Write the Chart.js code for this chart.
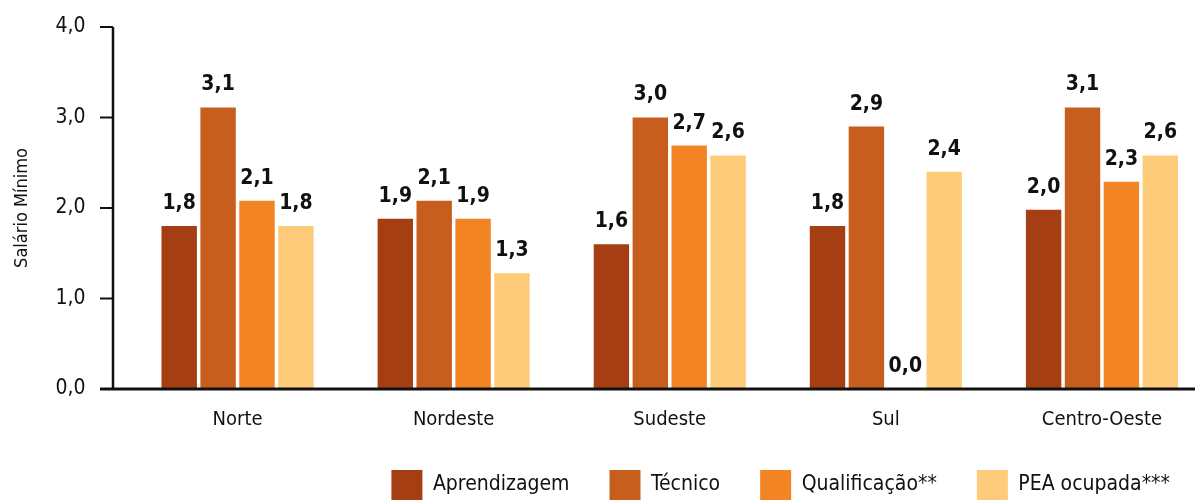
<!DOCTYPE html>
<html>
<head>
<meta charset="utf-8">
<script src="https://cdn.jsdelivr.net/npm/chart.js@4.4.1/dist/chart.umd.min.js"></script>
<style>
  html, body { margin: 0; padding: 0; background: #fff; overflow: hidden; }
  #wrap { width: 1212px; height: 510px; }
</style>
</head>
<body>
<div id="wrap"><canvas id="chart"></canvas></div>
<script>
const regioes = ['Norte', 'Nordeste', 'Sudeste', 'Sul', 'Centro-Oeste'];
const aprendizagem = [1.8, 1.88, 1.6, 1.8, 1.98];
const tecnico = [3.11, 2.08, 3.0, 2.9, 3.11];
const qualificacao = [2.08, 1.88, 2.69, 0.0, 2.29];
const peaOcupada = [1.8, 1.28, 2.58, 2.4, 2.58];
const yTicks = [0, 1, 2, 3, 4];

const FONT = "'Liberation Sans Narrow', 'DejaVu Sans Condensed', 'Roboto', sans-serif";
const fmt = (v) => v.toFixed(1).replace('.', ',');

// eixos desenhados a mao (linha do eixo y deslocada da area do grafico)
const axisLines = {
  id: 'axisLines',
  afterDraw(chart) {
    const { ctx, scales } = chart;
    const y = scales.y;
    const axisX = 113;
    ctx.save();
    ctx.strokeStyle = '#111';
    ctx.lineWidth = 2.5;
    ctx.beginPath();
    ctx.moveTo(axisX, y.getPixelForValue(4));
    ctx.lineTo(axisX, y.getPixelForValue(0));
    ctx.stroke();
    ctx.lineWidth = 2;
    yTicks.forEach((t) => {
      const py = y.getPixelForValue(t);
      ctx.beginPath();
      ctx.moveTo(100, py);
      ctx.lineTo(axisX, py);
      ctx.stroke();
    });
    ctx.lineWidth = 3;
    ctx.beginPath();
    ctx.moveTo(100, y.getPixelForValue(0));
    ctx.lineTo(chart.width, y.getPixelForValue(0));
    ctx.stroke();
    ctx.restore();
  },
};

const valueLabels = {
  id: 'valueLabels',
  afterDatasetsDraw(chart) {
    const { ctx } = chart;
    ctx.save();
    ctx.fillStyle = '#111';
    ctx.font = 'bold 21px ' + FONT;
    ctx.textAlign = 'center';
    ctx.textBaseline = 'bottom';
    chart.data.datasets.forEach((ds, i) => {
      chart.getDatasetMeta(i).data.forEach((bar, j) => {
        ctx.fillText(fmt(ds.data[j]), bar.x, bar.y - 12);
      });
    });
    ctx.restore();
  },
};

new Chart(document.getElementById('chart'), {
  type: 'bar',
  data: {
    labels: regioes,
    datasets: [
      { label: 'Aprendizagem', data: aprendizagem, backgroundColor: '#A63E14' },
      { label: 'Técnico', data: tecnico, backgroundColor: '#C85E1E' },
      { label: 'Qualificação**', data: qualificacao, backgroundColor: '#F28424' },
      { label: 'PEA ocupada***', data: peaOcupada, backgroundColor: '#FECB7A' },
    ],
  },
  options: {
    responsive: true,
    maintainAspectRatio: false,
    animation: false,
    layout: { padding: { top: 0, right: 2, left: 0, bottom: 0 } },
    datasets: { bar: { categoryPercentage: 0.72, barPercentage: 0.91, borderWidth: 0 } },
    scales: {
      x: {
        grid: { display: false, drawTicks: false },
        border: { display: false },
        ticks: { color: '#111', font: { family: FONT, size: 20 }, padding: 19 },
        afterFit(s) { s.height = 41; },
      },
      y: {
        min: 0,
        max: 4,
        grid: { display: false, drawTicks: false },
        border: { display: false },
        ticks: {
          stepSize: 1,
          color: '#111',
          padding: 44,
          font: { family: FONT, size: 21 },
          callback: (v) => fmt(v),
        },
        title: {
          display: true,
          text: 'Salário Mínimo',
          color: '#111',
          font: { family: FONT, size: 18 },
          padding: { top: 12, bottom: 0 },
        },
        afterFit(s) {
          s.width = 129.5;
          s.paddingTop = 27;
          s.paddingBottom = 0;
        },
      },
    },
    plugins: {
      legend: {
        position: 'bottom',
        align: 'end',
        labels: {
          boxWidth: 31,
          boxHeight: 30,
          padding: 40,
          color: '#111',
          font: { family: FONT, size: 21 },
        },
      },
      tooltip: { enabled: false },
    },
  },
  plugins: [axisLines, valueLabels],
});
</script>
</body>
</html>
